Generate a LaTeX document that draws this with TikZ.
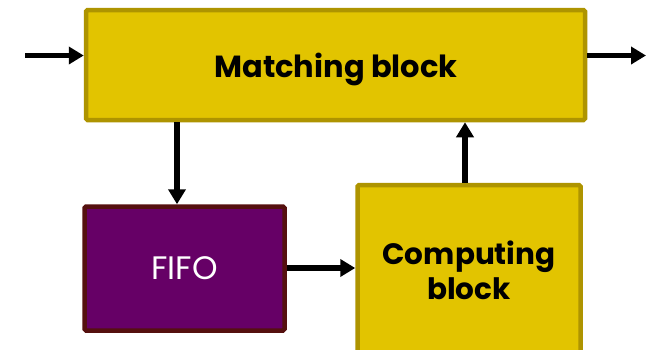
\documentclass[tikz,border=0pt]{standalone}
\usepackage{fontspec}
\setmainfont{Poppins}
\usetikzlibrary{arrows.meta}
\definecolor{goldfill}{HTML}{E2C400}
\definecolor{golddraw}{HTML}{AE9400}
\definecolor{fifofill}{HTML}{660066}
\definecolor{fifodraw}{HTML}{55100F}
\tikzset{
  goldbox/.style={draw=golddraw, fill=goldfill, line width=4.5pt, rounded corners=1.5pt, inner sep=0pt},
  fifobox/.style={draw=fifodraw, fill=fifofill, line width=4.5pt, rounded corners=1.5pt, inner sep=0pt},
  flow/.style={line width=5.5pt, -{Triangle[length=15pt,width=17pt]}},
  boldlabel/.style={font=\fontsize{30}{35}\selectfont\bfseries, align=center, text=black},
}
\begin{document}
\begin{tikzpicture}[x=1pt,y=-1pt]
  \useasboundingbox[fill=white] (0,0) rectangle (650,349);
  % blocks
  \node[goldbox, minimum width=499pt, minimum height=110pt] (match) at (335.5,65) {};
  \node[boldlabel, font=\fontsize{30.5}{35}\selectfont\bfseries] at (336,69) {Matching block};
  \node[fifobox, minimum width=200pt, minimum height=124pt] (fifo) at (184.5,268.5) {};
  \node[font=\fontsize{32.5}{36}\selectfont, text=white] at (fifo) {FIFO};
  \node[goldbox, minimum width=223pt, minimum height=190pt] (comp) at (469,280) {};
  \node[boldlabel, font=\fontsize{29.5}{35}\selectfont\bfseries] at (469,270) {Computing\\block};
  % endpoints of the open connectors
  \coordinate (in) at (25,55.5);
  \coordinate (out) at (646,55.5);
  % connectors
  \draw[flow] (in) -- (in -| match.west);
  \draw[flow] (out -| match.east) -- (out);
  \draw[flow] (match.south -| 177,0) -- (fifo.north -| 177,0);
  \draw[flow] (fifo.east |- 0,268) -- (comp.west |- 0,268);
  \draw[flow] (comp.north -| 465,0) -- (match.south -| 465,0);
\end{tikzpicture}
\end{document}
